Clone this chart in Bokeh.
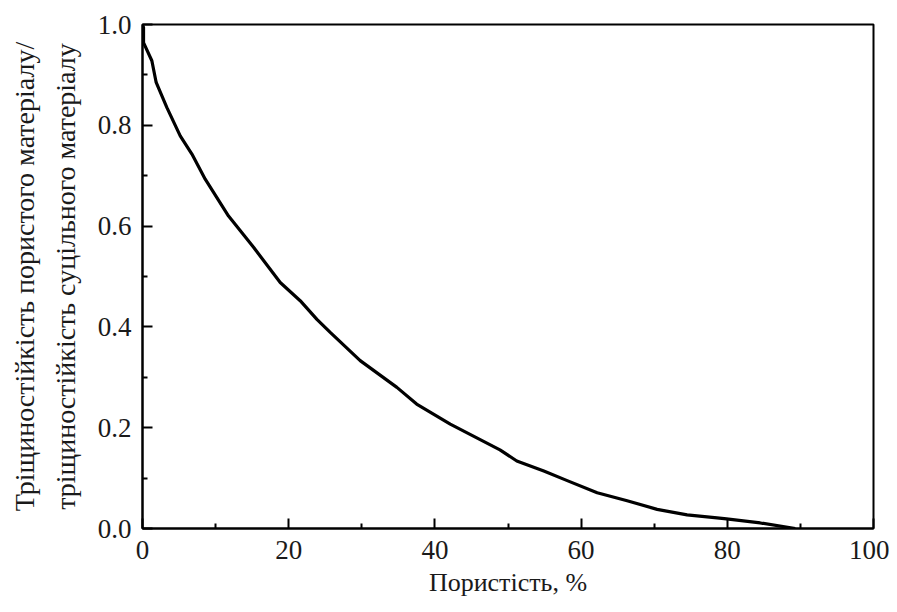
from bokeh.plotting import figure
from bokeh.models import Range1d, PrintfTickFormatter, FixedTicker
from bokeh.embed import file_html
from bokeh.resources import INLINE

porosity = [0.0, 0.14, 0.14, 1.28, 1.87, 3.34, 5.16, 6.76, 8.58, 11.77, 15.19, 18.84,
            21.57, 23.86, 25.68, 29.78, 34.8, 37.5, 42.1, 48.9, 51.2, 54.9, 58.1,
            62.2, 66.3, 70.4, 74.5, 78.6, 79.9, 84.5, 89.3]
ratio = [1.0, 0.994, 0.964, 0.928, 0.885, 0.835, 0.779, 0.743, 0.693, 0.620, 0.558, 0.488,
         0.452, 0.415, 0.389, 0.333, 0.280, 0.247, 0.207, 0.156, 0.134, 0.114, 0.095,
         0.071, 0.055, 0.038, 0.027, 0.021, 0.019, 0.011, 0.0]

x_ticks = [0, 20, 40, 60, 80, 100]
x_minor = [10, 30, 50, 70, 90]
y_ticks = [0.0, 0.2, 0.4, 0.6, 0.8, 1.0]
y_minor = [0.1, 0.3, 0.5, 0.7, 0.9]
x_label = "Пористість, %"
y_label = "Тріщиностійкість пористого матеріалу/\nтріщиностійкість суцільного матеріалу"

FONT = "Liberation Serif"

p = figure(width=889, height=604, output_backend="svg", toolbar_location=None,
           x_range=Range1d(0, 100), y_range=Range1d(0, 1.0),
           frame_width=731, frame_height=504,
           min_border_left=142, min_border_top=24, min_border_right=16, min_border_bottom=76)
p.background_fill_color = "white"
p.border_fill_color = "white"
p.grid.visible = False
p.outline_line_color = "black"
p.outline_line_width = 2
p.outline_line_alpha = 1.0

p.line(porosity, ratio, line_color="black", line_width=3.2, line_join="round")

for ax in (p.xaxis[0], p.yaxis[0]):
    ax.axis_line_width = 2
    ax.axis_line_color = "black"
    ax.major_tick_in = 10
    ax.major_tick_out = 0
    ax.minor_tick_in = 5
    ax.minor_tick_out = 0
    ax.major_tick_line_width = 2
    ax.minor_tick_line_width = 2
    ax.major_tick_line_color = "black"
    ax.minor_tick_line_color = "black"
    ax.major_label_text_font = FONT
    ax.major_label_text_font_size = "27px"
    ax.major_label_text_color = "#1a1a1a"
    ax.axis_label_text_font = FONT
    ax.axis_label_text_font_style = "normal"
    ax.axis_label_text_color = "#1a1a1a"

p.xaxis.axis_label_text_font_size = "26px"
p.yaxis.axis_label_text_font_size = "28px"
p.yaxis.axis_label_text_line_height = 1.3
p.xaxis.ticker = FixedTicker(ticks=x_ticks, minor_ticks=x_minor)
p.yaxis.ticker = FixedTicker(ticks=y_ticks, minor_ticks=y_minor)
p.yaxis.formatter = PrintfTickFormatter(format="%.1f")
p.xaxis.major_label_standoff = 12
p.yaxis.major_label_standoff = 11
p.xaxis.axis_label = x_label
p.yaxis.axis_label = y_label
p.xaxis.axis_label_standoff = 6
p.yaxis.axis_label_standoff = 14

open("out.html", "w").write(file_html(p, INLINE))
